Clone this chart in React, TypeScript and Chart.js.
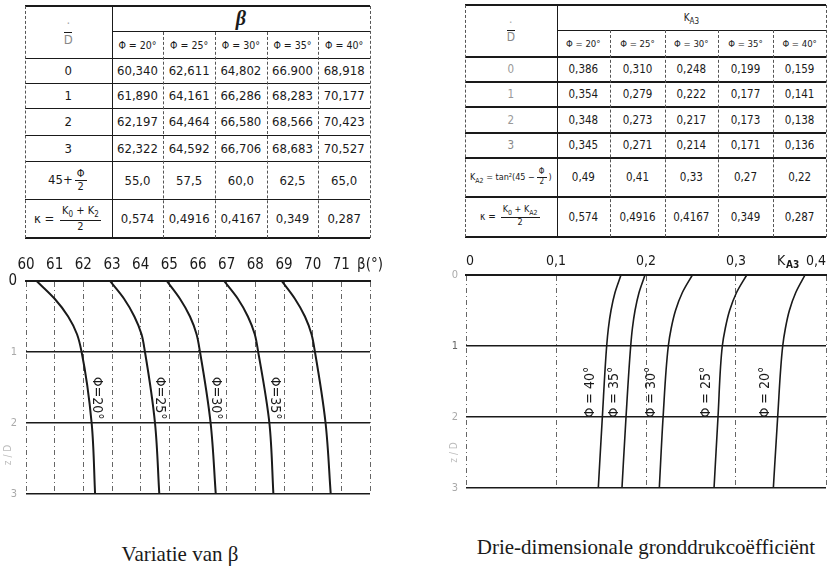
import React, { useEffect, useRef } from "react";
import { Chart, registerables } from "chart.js";
Chart.register(...registerables);

// ---------- DATA ----------
const phiLabels = ["Φ = 20°", "Φ = 25°", "Φ = 30°", "Φ = 35°", "Φ = 40°"];
const rowLabels = ["0", "1", "2", "3"];

// table: β
const betaRow0 = ["60,340", "62,611", "64,802", "66.900", "68,918"];
const betaRow1 = ["61,890", "64,161", "66,286", "68,283", "70,177"];
const betaRow2 = ["62,197", "64,464", "66,580", "68,566", "70,423"];
const betaRow3 = ["62,322", "64,592", "66,706", "68,683", "70,527"];
const betaHalfPhi = ["55,0", "57,5", "60,0", "62,5", "65,0"];
const kappaRow = ["0,574", "0,4916", "0,4167", "0,349", "0,287"];

// table: K_A3
const kaRow0 = ["0,386", "0,310", "0,248", "0,199", "0,159"];
const kaRow1 = ["0,354", "0,279", "0,222", "0,177", "0,141"];
const kaRow2 = ["0,348", "0,273", "0,217", "0,173", "0,138"];
const kaRow3 = ["0,345", "0,271", "0,214", "0,171", "0,136"];
const ka2Row = ["0,49", "0,41", "0,33", "0,27", "0,22"];

// chart curves, depth z/D
const zLevels = [0, 0.25, 0.5, 0.75, 1, 2, 3];
const beta20 = [60.37, 61.0, 61.47, 61.78, 61.94, 62.29, 62.41];
const beta25 = [62.93, 63.42, 63.78, 64.03, 64.15, 64.5, 64.65];
const beta30 = [64.91, 65.37, 65.72, 65.95, 66.07, 66.44, 66.62];
const beta35 = [66.91, 67.39, 67.74, 67.98, 68.1, 68.49, 68.63];
const beta40 = [68.92, 69.38, 69.73, 69.96, 70.08, 70.45, 70.63];

const ka20 = [0.3767, 0.3663, 0.3593, 0.3549, 0.3519, 0.3463, 0.3415];
const ka25 = [0.3119, 0.3005, 0.2929, 0.2881, 0.2848, 0.28, 0.2756];
const ka30 = [0.2515, 0.2403, 0.2328, 0.228, 0.2248, 0.219, 0.2148];
const ka35 = [0.1989, 0.1922, 0.1878, 0.1849, 0.183, 0.1778, 0.1733];
const ka40 = [0.1722, 0.1655, 0.1611, 0.1582, 0.1563, 0.1515, 0.147];

const betaTicks = [60, 61, 62, 63, 64, 65, 66, 67, 68, 69, 70, 71];
const kaTickLabels = ["0", "0,1", "0,2", "0,3", "0,4"];

// ---------- STYLE ----------
const FONT = '"DejaVu Sans Condensed", "Liberation Sans Narrow", "Roboto Condensed", Roboto, "DejaVu Sans", sans-serif';
const SERIF = '"Liberation Serif", "DejaVu Serif", serif';
const INK = "#1a1a1a";

const Frac = ({ n, d, size }: { n: any; d: any; size?: number }) => (
  <span
    style={{
      display: "inline-flex",
      flexDirection: "column",
      alignItems: "center",
      verticalAlign: "middle",
      lineHeight: 1.1,
      margin: "0 2px",
      fontSize: size,
    }}
  >
    <span style={{ borderBottom: `1px solid ${INK}`, padding: "0 2px" }}>{n}</span>
    <span>{d}</span>
  </span>
);

type Cell = { r: number; c: number; rs?: number; cs?: number; content: any; size?: number; color?: string; style?: any };

function GridTable({
  colX,
  rowY,
  cells,
  hLines,
  vLines,
}: {
  colX: number[];
  rowY: number[];
  cells: Cell[];
  hLines: { y: number; x0: number; x1: number; w: number }[];
  vLines: { x: number; y0: number; y1: number; dashed: boolean }[];
}) {
  return (
    <>
      {cells.map((cl, i) => {
        const x0 = colX[cl.c];
        const x1 = colX[cl.c + (cl.cs || 1)];
        const y0 = rowY[cl.r];
        const y1 = rowY[cl.r + (cl.rs || 1)];
        return (
          <div
            key={"c" + i}
            style={{
              position: "absolute",
              left: x0,
              top: y0,
              width: x1 - x0,
              height: y1 - y0,
              display: "flex",
              alignItems: "center",
              justifyContent: "center",
              fontFamily: FONT,
              fontSize: cl.size || 13,
              color: cl.color || INK,
              whiteSpace: "nowrap",
              ...(cl.style || {}),
            }}
          >
            {cl.content}
          </div>
        );
      })}
      {hLines.map((l, i) => (
        <div
          key={"h" + i}
          style={{
            position: "absolute",
            left: l.x0,
            top: l.y - l.w / 2,
            width: l.x1 - l.x0,
            height: 0,
            borderTop: `${l.w}px solid ${INK}`,
          }}
        />
      ))}
      {vLines.map((l, i) => (
        <div
          key={"v" + i}
          style={{
            position: "absolute",
            left: l.x,
            top: l.y0,
            width: 0,
            height: l.y1 - l.y0,
            borderLeft: `1px ${l.dashed ? "dashed" : "solid"} ${l.dashed ? "#555" : INK}`,
          }}
        />
      ))}
    </>
  );
}

function buildTable(colX: number[], rowY: number[], header: any, firstCol: any, body: { label: any; vals: string[]; color?: string }[], numSize: number, headSize: number, hw: number) {
  const cells: Cell[] = [];
  cells.push({ r: 0, c: 0, rs: 2, content: firstCol, color: "#888", size: 12 });
  cells.push({ r: 0, c: 1, cs: 5, content: header, style: { alignItems: "flex-start", paddingTop: 2, boxSizing: "border-box" } });
  phiLabels.forEach((p, i) => cells.push({ r: 1, c: i + 1, content: p, size: headSize }));
  body.forEach((row, ri) => {
    cells.push({ r: ri + 2, c: 0, content: row.label, color: row.color, size: numSize });
    row.vals.forEach((v, ci) => cells.push({ r: ri + 2, c: ci + 1, content: v, size: numSize }));
  });
  const L = colX[0];
  const R = colX[6];
  const hLines = rowY.map((y, i) => ({
    y,
    x0: i === 1 ? colX[1] : L,
    x1: R,
    w: i === 0 || i === rowY.length - 1 ? 2 : i === 1 ? 1 : hw,
  }));
  const vLines = colX.map((x, i) => ({
    x,
    y0: i >= 2 && i <= 5 ? rowY[1] : rowY[0],
    y1: rowY[rowY.length - 1],
    dashed: i !== 1,
  }));
  return { cells, hLines, vLines };
}

function BetaTable() {
  const colX = [25, 111.7, 163.3, 215, 266.7, 318.3, 370];
  const rowY = [6, 31.7, 58.3, 83.3, 108.3, 135, 161.7, 199.3, 238.3];
  const t = buildTable(
    colX,
    rowY,
    <span style={{ fontFamily: SERIF, fontStyle: "italic", fontWeight: "bold", fontSize: 20, lineHeight: "20px" }}>β</span>,
    <Frac n={<span style={{ color: "#aaa" }}>·</span>} d={<span>D</span>} size={13} />,
    [
      { label: rowLabels[0], vals: betaRow0 },
      { label: rowLabels[1], vals: betaRow1 },
      { label: rowLabels[2], vals: betaRow2 },
      { label: rowLabels[3], vals: betaRow3 },
      { label: <span>45+<Frac n="Φ" d="2" size={11} /></span>, vals: betaHalfPhi },
      { label: <span>κ = <Frac n={<span>K<sub style={{ fontSize: 8 }}>0</sub> + K<sub style={{ fontSize: 8 }}>2</sub></span>} d="2" size={11} /></span>, vals: kappaRow },
    ],
    13,
    10.5,
    1
  );
  return <GridTable colX={colX} rowY={rowY} {...t} />;
}

function KaTable() {
  const colX = [465, 556.7, 610, 665, 717.7, 773.3, 826];
  const rowY = [5, 30, 56.7, 81.7, 106.7, 132.7, 158.3, 196.7, 236.7];
  const t = buildTable(
    colX,
    rowY,
    <span style={{ fontSize: 10, lineHeight: "14px", paddingTop: 4 }}>K<sub style={{ fontSize: 8 }}>A3</sub></span>,
    <Frac n={<span style={{ color: "#aaa" }}>·</span>} d={<span>D</span>} size={12} />,
    [
      { label: rowLabels[0], vals: kaRow0, color: "#999" },
      { label: rowLabels[1], vals: kaRow1, color: "#999" },
      { label: rowLabels[2], vals: kaRow2, color: "#999" },
      { label: rowLabels[3], vals: kaRow3, color: "#888" },
      {
        label: (
          <span style={{ fontSize: 9 }}>
            K<sub style={{ fontSize: 7 }}>A2</sub> = tan²(45 −<Frac n="Φ" d="2" size={8} />)
          </span>
        ),
        vals: ka2Row,
      },
      {
        label: (
          <span style={{ fontSize: 10 }}>
            κ = <Frac n={<span>K<sub style={{ fontSize: 7 }}>0</sub> + K<sub style={{ fontSize: 7 }}>A2</sub></span>} d="2" size={9} />
          </span>
        ),
        vals: kappaRow,
      },
    ],
    11.5,
    9.5,
    2
  );
  return <GridTable colX={colX} rowY={rowY} {...t} />;
}

// ---------- CHART PLUGINS ----------
function curveLabelsPlugin(labels: (string | null)[], zAt: number, refIndex: number, dx: number, rot: number, size: number) {
  return {
    id: "curveLabels",
    afterDatasetsDraw(chart: any) {
      const { ctx, scales } = chart;
      const xs = scales.x;
      const ys = scales.y;
      chart.data.datasets.forEach((ds: any, i: number) => {
        const text = labels[i];
        if (!text) return;
        const px = xs.getPixelForValue(ds.data[refIndex].x) + dx;
        const py = ys.getPixelForValue(zAt);
        ctx.save();
        ctx.translate(px, py);
        ctx.rotate(rot);
        ctx.font = `${size}px ${FONT}`;
        ctx.fillStyle = INK;
        ctx.textAlign = "center";
        ctx.textBaseline = "middle";
        ctx.fillText(text, 0, 0);
        ctx.restore();
      });
    },
  };
}

function extraTextPlugin(draw: (chart: any) => void) {
  return { id: "extraText", afterDraw: draw };
}

function makeDatasets(series: number[][], width: number) {
  return series.map((vals) => ({
    data: zLevels.map((z, i) => ({ x: vals[i], y: z })),
    borderColor: INK,
    borderWidth: width,
    pointRadius: 0,
    fill: false,
    cubicInterpolationMode: "monotone" as const,
  }));
}

const fixY = (w: number) => (s: any) => {
  s.width = w;
  s.paddingTop = 0;
  s.paddingBottom = 0;
};

const compactLabels = phiLabels.slice(0, 4).map((s) => s.replace(/ /g, ""));

function BetaChart() {
  const ref = useRef<HTMLCanvasElement>(null);
  useEffect(() => {
    if (!ref.current) return;
    const chart = new Chart(ref.current, {
      type: "line",
      data: { datasets: makeDatasets([beta20, beta25, beta30, beta35, beta40], 2) as any },
      options: {
        animation: false,
        responsive: false,
        indexAxis: "y",
        layout: { padding: { top: 0, left: 0, right: 20, bottom: 4 } },
        plugins: { legend: { display: false }, tooltip: { enabled: false } },
        scales: {
          x: {
            type: "linear",
            position: "top",
            min: 60,
            max: 72,
            afterBuildTicks: (s: any) => {
              s.ticks = [...betaTicks, 72].map((v) => ({ value: v }));
            },
            ticks: {
              autoSkip: false,
              maxRotation: 0,
              padding: 7,
              color: INK,
              font: { family: FONT, size: 15 },
              callback: (v: any) => (v === 72 ? "β(°)" : String(v)),
            },
            grid: { color: "#666", lineWidth: 1, drawTicks: false },
            border: { display: true, color: INK, width: 2, dash: [5, 3, 1, 3] },
            afterFit: (s: any) => {
              s.height = 41;
              s.paddingLeft = 0;
              s.paddingRight = 0;
            },
          },
          y: {
            type: "linear",
            reverse: true,
            min: 0,
            max: 3,
            ticks: {
              stepSize: 1,
              padding: 9,
              font: (c: any) => ({ family: FONT, size: c.tick && c.tick.value === 0 ? 15 : 11 }),
              color: (c: any) => (c.tick && c.tick.value === 0 ? INK : "#aaa"),
            },
            grid: { color: INK, lineWidth: 1.5, drawTicks: false },
            border: { display: false },
            afterFit: fixY(26),
          },
        },
      },
      plugins: [
        curveLabelsPlugin([...compactLabels, null], 1.65, 5, 5, Math.PI / 2, 14),
        extraTextPlugin((chart: any) => {
          const { ctx, scales } = chart;
          ctx.save();
          ctx.translate(scales.y.left + 8, scales.y.getPixelForValue(2.45));
          ctx.rotate(-Math.PI / 2);
          ctx.font = `10px ${FONT}`;
          ctx.fillStyle = "#bbb";
          ctx.textAlign = "center";
          ctx.textBaseline = "middle";
          ctx.fillText("z / D", 0, 0);
          ctx.restore();
        }),
      ],
    } as any);
    return () => chart.destroy();
  }, []);
  return <canvas ref={ref} width={390} height={258} style={{ position: "absolute", left: 0, top: 240, width: 390, height: 258 }} />;
}

function KaChart() {
  const ref = useRef<HTMLCanvasElement>(null);
  useEffect(() => {
    if (!ref.current) return;
    const chart = new Chart(ref.current, {
      type: "line",
      data: { datasets: makeDatasets([ka20, ka25, ka30, ka35, ka40], 1.6) as any },
      options: {
        animation: false,
        responsive: false,
        indexAxis: "y",
        layout: { padding: { top: 0, left: 0, right: 8, bottom: 4 } },
        plugins: { legend: { display: false }, tooltip: { enabled: false } },
        scales: {
          x: {
            type: "linear",
            position: "top",
            min: 0,
            max: 0.4,
            afterBuildTicks: (s: any) => {
              s.ticks = kaTickLabels.map((_, i) => ({ value: i / 10 }));
            },
            ticks: {
              autoSkip: false,
              maxRotation: 0,
              padding: 5,
              align: "inner",
              color: INK,
              font: { family: FONT, size: 14 },
              callback: (_v: any, i: number) => kaTickLabels[i],
            },
            grid: { color: "#666", lineWidth: 1, drawTicks: false },
            border: { display: true, color: INK, width: 2, dash: [5, 3, 1, 3] },
            afterFit: (s: any) => {
              s.height = 35;
              s.paddingLeft = 0;
              s.paddingRight = 0;
            },
          },
          y: {
            type: "linear",
            reverse: true,
            min: 0,
            max: 3,
            ticks: {
              stepSize: 1,
              padding: 8,
              font: { family: FONT, size: 11 },
              color: (c: any) => (c.tick && c.tick.value === 1 ? "#666" : "#aaa"),
            },
            grid: { color: INK, lineWidth: 1.5, drawTicks: false },
            border: { display: false },
            afterFit: fixY(46),
          },
        },
      },
      plugins: [
        curveLabelsPlugin(phiLabels, 1.65, 5, -12, -Math.PI / 2, 14),
        extraTextPlugin((chart: any) => {
          const { ctx, scales } = chart;
          const xs = scales.x;
          ctx.save();
          ctx.fillStyle = INK;
          ctx.textBaseline = "alphabetic";
          ctx.textAlign = "left";
          const kx = xs.getPixelForValue(0.4) - 49;
          ctx.font = `14px ${FONT}`;
          ctx.fillText("K", kx, xs.bottom - 10);
          ctx.font = `bold 10px ${FONT}`;
          ctx.fillText("A3", kx + 9, xs.bottom - 7);
          ctx.translate(scales.y.right - 12, scales.y.getPixelForValue(2.5));
          ctx.rotate(-Math.PI / 2);
          ctx.font = `10px ${FONT}`;
          ctx.fillStyle = "#bbb";
          ctx.textAlign = "center";
          ctx.textBaseline = "middle";
          ctx.fillText("z / D", 0, 0);
          ctx.restore();
        }),
      ],
    } as any);
    return () => chart.destroy();
  }, []);
  return <canvas ref={ref} width={414} height={252} style={{ position: "absolute", left: 420, top: 240, width: 414, height: 252 }} />;
}

export default function App() {
  return (
    <div style={{ position: "absolute", left: 0, top: 0, width: 834, height: 568, background: "#fff", overflow: "hidden" }}>
      <BetaTable />
      <KaTable />
      <BetaChart />
      <KaChart />
      <div style={{ position: "absolute", left: 0, width: 360, top: 542, textAlign: "center", fontFamily: SERIF, fontSize: 21, color: INK }}>
        Variatie van β
      </div>
      <div style={{ position: "absolute", left: 446, width: 400, top: 535, textAlign: "center", fontFamily: SERIF, fontSize: 21, color: INK }}>
        Drie-dimensionale gronddrukcoëfficiënt
      </div>
    </div>
  );
}
